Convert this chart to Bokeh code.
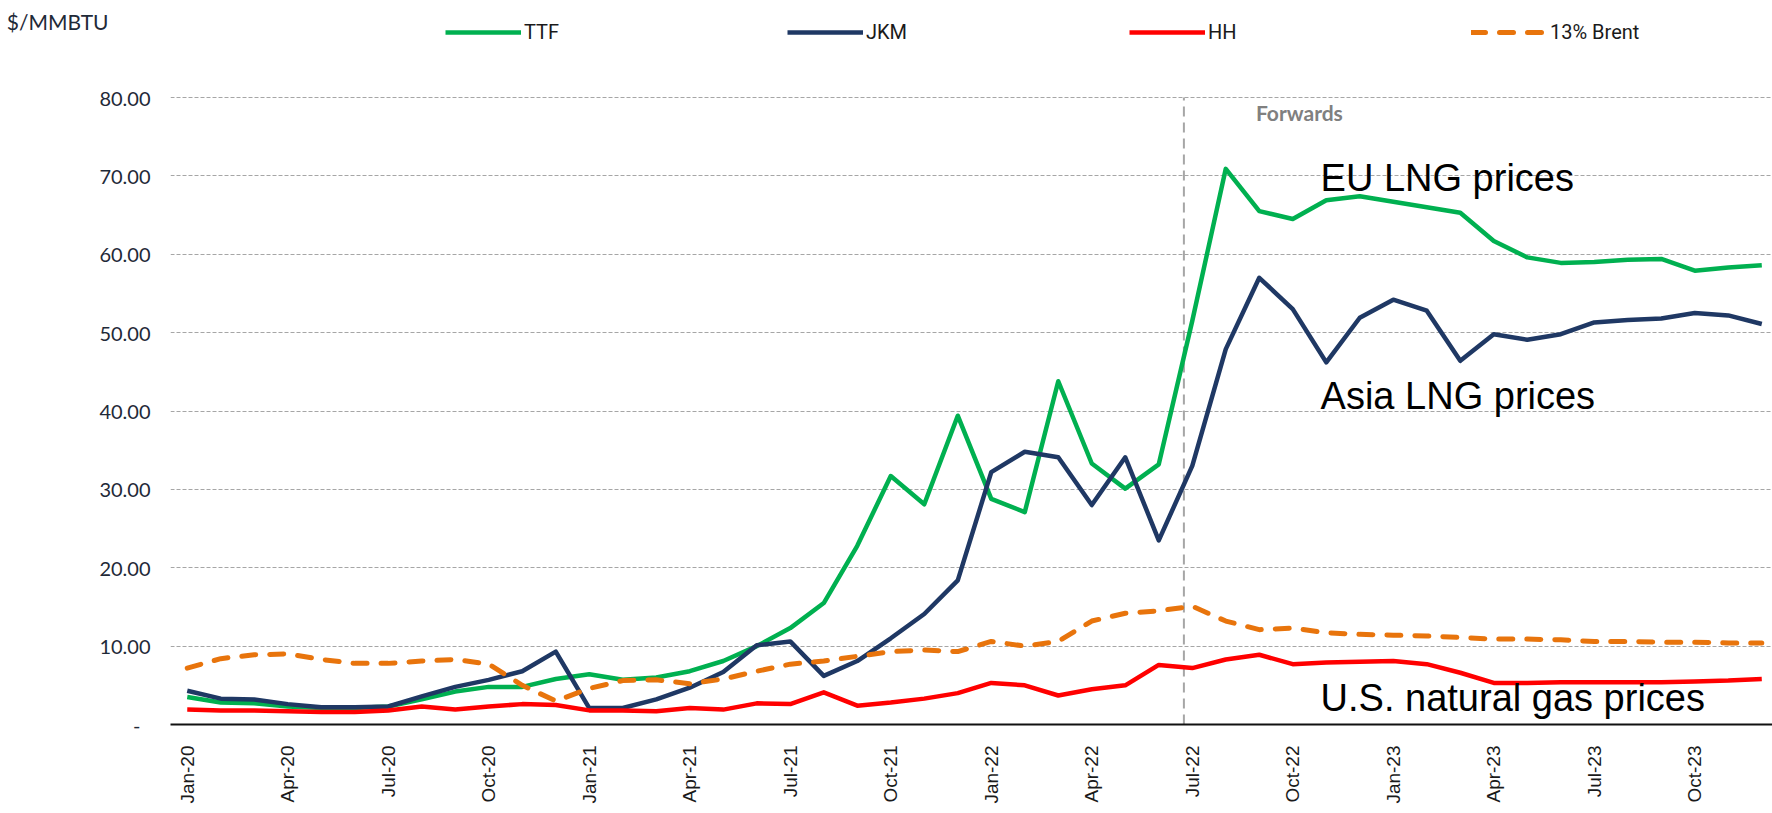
from bokeh.plotting import figure
from bokeh.models import (Range1d, FixedTicker, Label, Legend, LegendItem,
                          ColumnDataSource, LinearAxis)
from bokeh.embed import file_html
from bokeh.resources import INLINE

# ---------------- data ----------------
MONTHS = ["Jan-20", "Feb-20", "Mar-20", "Apr-20", "May-20", "Jun-20", "Jul-20", "Aug-20",
          "Sep-20", "Oct-20", "Nov-20", "Dec-20",
          "Jan-21", "Feb-21", "Mar-21", "Apr-21", "May-21", "Jun-21", "Jul-21", "Aug-21",
          "Sep-21", "Oct-21", "Nov-21", "Dec-21",
          "Jan-22", "Feb-22", "Mar-22", "Apr-22", "May-22", "Jun-22", "Jul-22", "Aug-22",
          "Sep-22", "Oct-22", "Nov-22", "Dec-22",
          "Jan-23", "Feb-23", "Mar-23", "Apr-23", "May-23", "Jun-23", "Jul-23", "Aug-23",
          "Sep-23", "Oct-23", "Nov-23", "Dec-23"]

TTF = [3.5, 2.8, 2.7, 2.3, 2.1, 2.1, 2.3, 3.2, 4.2, 4.8, 4.8, 5.8,
       6.4, 5.7, 6.0, 6.8, 8.1, 10.0, 12.3, 15.5, 22.8, 31.7, 28.1, 39.4,
       28.8, 27.1, 43.8, 33.3, 30.1, 33.2, 51.5, 70.9, 65.5, 64.5, 66.9, 67.4,
       66.7, 66.0, 65.3, 61.7, 59.6, 58.9, 59.0, 59.3, 59.4, 57.9, 58.3, 58.6]

JKM = [4.3, 3.3, 3.2, 2.6, 2.2, 2.2, 2.3, 3.6, 4.8, 5.7, 6.8, 9.3,
       2.1, 2.1, 3.2, 4.7, 6.7, 10.1, 10.6, 6.2, 8.1, 11.0, 14.1, 18.4,
       32.2, 34.8, 34.1, 28.0, 34.1, 23.5, 33.0, 47.9, 57.0, 53.0, 46.2, 51.9,
       54.2, 52.8, 46.4, 49.8, 49.1, 49.8, 51.3, 51.6, 51.8, 52.5, 52.2, 51.1]

HH = [1.9, 1.8, 1.8, 1.7, 1.6, 1.6, 1.8, 2.3, 1.9, 2.3, 2.6, 2.5,
      1.8, 1.8, 1.7, 2.1, 1.9, 2.7, 2.6, 4.1, 2.4, 2.8, 3.3, 4.0,
      5.3, 5.0, 3.7, 4.5, 5.0, 7.6, 7.2, 8.3, 8.9, 7.7, 7.9, 8.0,
      8.1, 7.7, 6.6, 5.3, 5.3, 5.4, 5.4, 5.4, 5.4, 5.5, 5.6, 5.8]

BRENT13 = [7.2, 8.4, 8.9, 9.0, 8.3, 7.8, 7.8, 8.1, 8.3, 7.7, 5.0, 3.0,
           4.6, 5.6, 5.7, 5.2, 5.8, 6.8, 7.7, 8.1, 8.7, 9.3, 9.5, 9.3,
           10.6, 10.0, 10.6, 13.2, 14.2, 14.5, 15.1, 13.2, 12.1, 12.3, 11.7, 11.5,
           11.4, 11.3, 11.1, 10.9, 10.9, 10.8, 10.6, 10.6, 10.5, 10.5, 10.4, 10.4]

SERIES_NAMES = ["TTF", "JKM", "HH", "13% Brent"]
Y_TICKS = [0, 10, 20, 30, 40, 50, 60, 70, 80]
Y_TICK_LABELS = ["-\u2002", "10.00", "20.00", "30.00", "40.00", "50.00", "60.00", "70.00", "80.00"]
UNIT_LABEL = "$/MMBTU"
X_TICK_STEP = 3
FORWARD_START = 29.75  # "Forwards" divider (between Jun-22 and Jul-22)

ANNOTATIONS = [("EU LNG prices", 33.83, 69.7),
               ("Asia LNG prices", 33.83, 41.9),
               ("U.S. natural gas prices", 33.83, 3.4)]

# ---------------- figure ----------------
Y_TOP = 92.38       # frame reaches the top of the figure (room for header)
UNIT_Y = 89.7       # vertical spot of the unit caption

idx = list(range(len(MONTHS)))
src = ColumnDataSource(dict(x=idx, ttf=TTF, jkm=JKM, hh=HH, brent=BRENT13))

p = figure(width=1772, height=813, output_backend="svg", toolbar_location=None,
           x_range=Range1d(-0.5, 47.32), y_range=Range1d(0, Y_TOP),
           min_border_left=170, min_border_right=0, min_border_top=0, min_border_bottom=89)
p.outline_line_color = None
p.background_fill_color = "white"
p.border_fill_color = "white"

# grid
p.xgrid.grid_line_color = None
p.ygrid.grid_line_color = "#a6a6a6"
p.ygrid.grid_line_dash = "4 2"
p.ygrid.grid_line_width = 1.2
p.ygrid.ticker = FixedTicker(ticks=Y_TICKS[1:])

# axes
xa = p.xaxis[0]
xa.ticker = FixedTicker(ticks=idx[::X_TICK_STEP])
xa.major_label_overrides = {i: MONTHS[i] for i in idx[::X_TICK_STEP]}
xa.major_label_orientation = 3.14159265 / 2
xa.major_label_text_font = "Liberation Sans"
xa.major_label_text_font_size = "19px"
xa.major_label_text_color = "#1a1a1a"
xa.major_label_standoff = 21
xa.major_tick_out = 0
xa.major_tick_in = 0
xa.major_tick_line_color = None
xa.minor_tick_line_color = None
xa.axis_line_color = "#111111"
xa.axis_line_width = 2

ya = p.yaxis[0]
ya.ticker = FixedTicker(ticks=Y_TICKS)
ya.major_label_overrides = {t: s for t, s in zip(Y_TICKS, Y_TICK_LABELS)}
ya.major_label_text_font = "Lato"
ya.major_label_text_font_size = "20px"
ya.major_label_text_color = "#1f2a38"
ya.major_label_standoff = 20
ya.major_tick_out = 0
ya.major_tick_in = 0
ya.major_tick_line_color = None
ya.minor_tick_line_color = None
ya.axis_line_color = None

# unit caption as an outer left axis carrying a single label
unit_axis = LinearAxis(ticker=FixedTicker(ticks=[UNIT_Y]),
                       major_label_overrides={UNIT_Y: UNIT_LABEL},
                       major_label_text_font="Lato", major_label_text_font_size="21px",
                       major_label_text_color="#1f2a38", major_label_standoff=-12,
                       major_tick_out=0, major_tick_in=0, major_tick_line_color=None,
                       minor_tick_line_color=None, axis_line_color=None)
p.add_layout(unit_axis, "left")

# forwards divider (from the x axis up to the top gridline)
p.segment(x0=[FORWARD_START], y0=[Y_TICKS[0]], x1=[FORWARD_START], y1=[Y_TICKS[-1]],
          line_color="#a6a6a6", line_dash="10 6", line_width=2)

# series
r_ttf = p.line("x", "ttf", source=src, line_color="#00b050", line_width=4.5, line_join="round")
r_jkm = p.line("x", "jkm", source=src, line_color="#1f3864", line_width=4.5, line_join="round")
r_hh = p.line("x", "hh", source=src, line_color="#ff0000", line_width=4.5, line_join="round")
r_br = p.line("x", "brent", source=src, line_color="#e8740c", line_width=5, line_dash="14 14",
              line_cap="round", line_join="round")

legend = Legend(items=[LegendItem(label=n, renderers=[r]) for n, r in
                       zip(SERIES_NAMES, [r_ttf, r_jkm, r_hh, r_br])],
                orientation="horizontal", location=(275, 680),
                glyph_width=76, glyph_height=22, label_height=22, label_width=263,
                label_standoff=3, spacing=0, padding=0, margin=0,
                label_text_font="Roboto", label_text_font_size="20px",
                label_text_color="#1a1a1a", border_line_color=None,
                background_fill_alpha=0)
p.add_layout(legend)

# annotations
for txt, xx, yy in ANNOTATIONS:
    p.add_layout(Label(x=xx, y=yy, text=txt, text_font="Liberation Sans",
                       text_font_size="38px", text_color="black",
                       text_baseline="middle", text_align="left"))

p.add_layout(Label(x=31.9, y=78.1, text="Forwards", text_font="Lato",
                   text_font_style="bold", text_font_size="21px", text_color="#808080",
                   text_baseline="middle", text_align="left"))

open("out.html", "w").write(file_html(p, INLINE))
